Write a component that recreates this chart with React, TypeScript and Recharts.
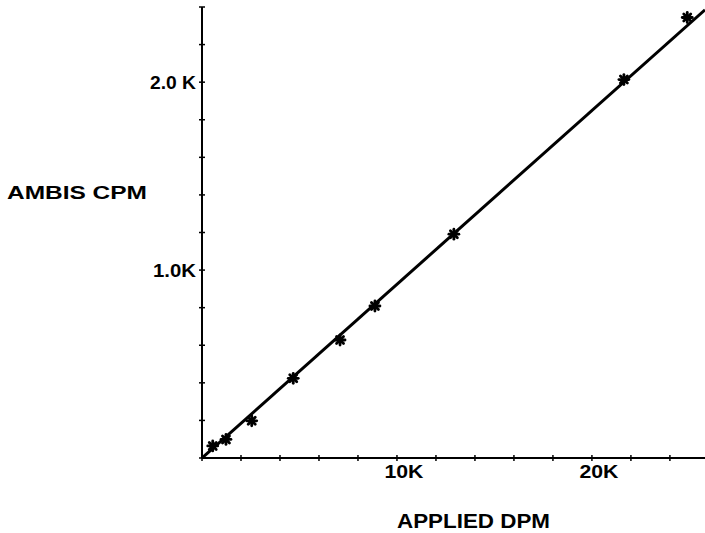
import { ComposedChart, Label, Line, Scatter, XAxis, YAxis } from "recharts";

// applied activity (DPM) vs. counts measured on the AMBIS scanner (CPM)
const appliedDpm = [550, 1230, 2550, 4680, 7080, 8870, 12920, 21640, 24890];
const ambisCpm = [64, 99, 198, 424, 628, 809, 1191, 2014, 2344];

// fitted line end points
const fitDpm = [0, 25800];
const fitCpm = [0, 2385];

const dpmTicks = [0, 2000, 4000, 6000, 8000, 10000, 12000, 14000, 16000, 18000, 20000, 22000, 24000];
const dpmLabels: Record<number, string> = { 10000: "10K", 20000: "20K" };
const cpmTicks = [0, 200, 400, 600, 800, 1000, 1200, 1400, 1600, 1800, 2000, 2200, 2400];
const cpmLabels: Record<number, string> = { 1000: "1.0K", 2000: "2.0 K" };

const points = appliedDpm.map((x, i) => ({ x, y: ambisCpm[i] }));
const fit = fitDpm.map((x, i) => ({ x, y: fitCpm[i] }));

const FONT = "'Liberation Sans', Arial, sans-serif";

function XTick({ x, y, payload }: any) {
  const label = dpmLabels[payload.value];
  return (
    <g>
      <line x1={x} x2={x} y1={y - 3} y2={y + 3} stroke="#000" strokeWidth={1.5} />
      {label && (
        <text
          x={x + 7}
          y={y + 20}
          textAnchor="middle"
          textLength={label.length * 13}
          lengthAdjust="spacingAndGlyphs"
          fontFamily={FONT}
          fontWeight="bold"
          fontSize={19}
          fill="#000"
        >
          {label}
        </text>
      )}
    </g>
  );
}

function YTick({ x, y, payload }: any) {
  const label = cpmLabels[payload.value];
  return (
    <g>
      <line x1={x - 3} x2={x + 3} y1={y} y2={y} stroke="#000" strokeWidth={1.5} />
      {label && (
        <text
          x={x - 6}
          y={y + 7}
          textAnchor="end"
          textLength={label.length === 4 ? 43 : 46}
          lengthAdjust="spacingAndGlyphs"
          fontFamily={FONT}
          fontWeight="bold"
          fontSize={19}
          fill="#000"
        >
          {label}
        </text>
      )}
    </g>
  );
}

function Star({ cx, cy }: any) {
  const r = 5;
  return (
    <g stroke="#000" strokeWidth={2.8} strokeLinecap="round">
      <line x1={cx - r} x2={cx + r} y1={cy} y2={cy} />
      <line x1={cx} x2={cx} y1={cy - r} y2={cy + r} />
      <line x1={cx - r * 0.7} x2={cx + r * 0.7} y1={cy - r * 0.7} y2={cy + r * 0.7} />
      <line x1={cx - r * 0.7} x2={cx + r * 0.7} y1={cy + r * 0.7} y2={cy - r * 0.7} />
    </g>
  );
}

export default function App() {
  return (
    <div style={{ position: "absolute", left: 0, top: 0, width: 705, height: 533, background: "#fff" }}>
      <ComposedChart width={705} height={533} margin={{ top: 7, right: 0, bottom: 45, left: 142 }}>
        <XAxis
          dataKey="x"
          type="number"
          domain={[0, 25800]}
          ticks={dpmTicks}
          interval={0}
          allowDataOverflow
          height={30}
          tickSize={0}
          tickMargin={0}
          tick={<XTick />}
          axisLine={{ stroke: "#000", strokeWidth: 2 }}
        >
          <Label
            content={() => (
              <text x={397} y={528} textLength={153} lengthAdjust="spacingAndGlyphs" fontFamily={FONT} fontWeight="bold" fontSize={20} fill="#000">
                APPLIED DPM
              </text>
            )}
          />
        </XAxis>
        <YAxis
          dataKey="y"
          type="number"
          domain={[0, 2400]}
          ticks={cpmTicks}
          interval={0}
          allowDataOverflow
          width={60}
          tickSize={0}
          tickMargin={0}
          tick={<YTick />}
          axisLine={{ stroke: "#000", strokeWidth: 2 }}
        >
          <Label
            content={() => (
              <text x={7} y={199} textLength={140} lengthAdjust="spacingAndGlyphs" fontFamily={FONT} fontWeight="bold" fontSize={19} fill="#000">
                AMBIS CPM
              </text>
            )}
          />
        </YAxis>
        <Line data={fit} dataKey="y" stroke="#000" strokeWidth={3} dot={false} activeDot={false} isAnimationActive={false} type="linear" />
        <Scatter data={points} dataKey="y" shape={<Star />} isAnimationActive={false} />
      </ComposedChart>
    </div>
  );
}
